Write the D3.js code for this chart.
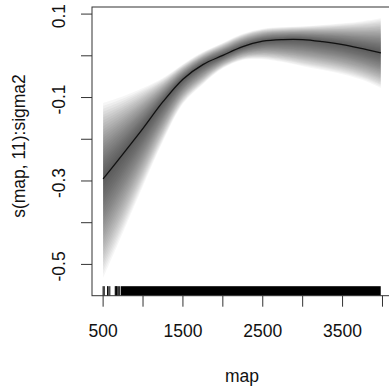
<!DOCTYPE html>
<html>
  <head>
    <meta charset="utf-8">
    <title>s(map, 11):sigma2</title>
    <style>
      body { margin: 0; background: #fff; }
      text {
        font-family: 'Liberation Sans', Arial, sans-serif;
        font-size: 17.5px;
        fill: #111;
      }
    </style>
  </head>
  <body>
    <div id="chart"></div>
    <script src="https://cdn.jsdelivr.net/npm/d3@7"></script>
    <script>
      // smooth estimate and outer edges of the shaded band
      var mapGrid = [500, 750, 1000, 1250, 1500, 1750, 2000, 2250, 2500, 2750, 3000, 3250, 3500, 3750, 3980];
      var fitVals = [-0.295, -0.235, -0.174, -0.110, -0.056, -0.021, 0.001, 0.022, 0.035, 0.039, 0.039, 0.034, 0.027, 0.017, 0.007];
      var upperVals = [-0.113, -0.097, -0.077, -0.053, -0.020, 0.009, 0.031, 0.053, 0.065, 0.069, 0.071, 0.074, 0.078, 0.083, 0.090];
      var lowerVals = [-0.533, -0.423, -0.312, -0.205, -0.115, -0.068, -0.030, -0.010, -0.008, -0.015, -0.025, -0.034, -0.044, -0.058, -0.077];

      // rug: a few isolated values, then a solid run of observations
      var rugSparse = [500, 514, 556, 563, 584, 652, 660, 667, 676, 690, 708];
      var rugDense = [722, 3978];

      var xTicks = [500, 1000, 1500, 2000, 2500, 3000, 3500, 4000];
      var xLabels = [500, 1500, 2500, 3500];
      var yTicks = [-0.5, -0.4, -0.3, -0.2, -0.1, 0, 0.1];
      var yLabels = [-0.5, -0.3, -0.1, 0.1];

      var width = 389, height = 386;
      var box = { left: 92, top: 7, right: 392, bottom: 295.7 };
      var tickLen = 11;
      var layers = 26;

      var svg = d3.select('#chart')
        .append('svg')
        .attr('width', width)
        .attr('height', height);

      var x = d3.scaleLinear().domain([360.8, 4119.2]).range([box.left, box.right]);
      var y = d3.scaleLinear().domain([-0.575, 0.117]).range([box.bottom, box.top]);

      var rows = mapGrid.map(function(m, i) {
        return { map: m, fit: fitVals[i], up: upperVals[i], lo: lowerVals[i] };
      });

      var curve = d3.curveCatmullRom.alpha(0.5);

      // stacked translucent bands, widest first, to fake the fading shade
      var band = svg.append('g');
      for (var k = layers; k >= 1; k--) {
        var f = k / layers;
        var area = d3.area()
          .curve(curve)
          .x(function(d) { return x(d.map); })
          .y0(function(d) { return y(d.fit - (d.fit - d.lo) * f); })
          .y1(function(d) { return y(d.fit + (d.up - d.fit) * f); });
        band.append('path')
          .datum(rows)
          .attr('d', area)
          .attr('fill', '#000')
          .attr('fill-opacity', 0.034);
      }

      var line = d3.line()
        .curve(curve)
        .x(function(d) { return x(d.map); })
        .y(function(d) { return y(d.fit); });

      svg.append('path')
        .datum(rows)
        .attr('d', line)
        .attr('fill', 'none')
        .attr('stroke', '#111')
        .attr('stroke-width', 1.3);

      // rug
      var rugTop = box.bottom - 9.5;
      svg.selectAll('.rug')
        .data(rugSparse)
        .enter()
        .append('line')
        .attr('class', 'rug')
        .attr('x1', function(d) { return x(d); })
        .attr('x2', function(d) { return x(d); })
        .attr('y1', rugTop)
        .attr('y2', box.bottom)
        .attr('stroke', '#000')
        .attr('stroke-width', 1);

      svg.append('rect')
        .attr('x', x(rugDense[0]))
        .attr('y', rugTop)
        .attr('width', x(rugDense[1]) - x(rugDense[0]))
        .attr('height', box.bottom - rugTop)
        .attr('fill', '#000');

      // box
      svg.append('rect')
        .attr('x', box.left)
        .attr('y', box.top)
        .attr('width', box.right - box.left)
        .attr('height', box.bottom - box.top)
        .attr('fill', 'none')
        .attr('stroke', '#333')
        .attr('stroke-width', 1);

      // x axis ticks and labels
      svg.selectAll('.xtick')
        .data(xTicks)
        .enter()
        .append('line')
        .attr('class', 'xtick')
        .attr('x1', function(d) { return x(d); })
        .attr('x2', function(d) { return x(d); })
        .attr('y1', box.bottom)
        .attr('y2', box.bottom + tickLen)
        .attr('stroke', '#333');

      svg.selectAll('.xlab')
        .data(xLabels)
        .enter()
        .append('text')
        .attr('class', 'xlab')
        .attr('x', function(d) { return x(d); })
        .attr('y', 336.5)
        .attr('text-anchor', 'middle')
        .text(function(d) { return d; });

      // y axis ticks and rotated labels
      svg.selectAll('.ytick')
        .data(yTicks)
        .enter()
        .append('line')
        .attr('class', 'ytick')
        .attr('x1', box.left)
        .attr('x2', box.left - tickLen)
        .attr('y1', function(d) { return y(d); })
        .attr('y2', function(d) { return y(d); })
        .attr('stroke', '#333');

      svg.selectAll('.ylab')
        .data(yLabels)
        .enter()
        .append('text')
        .attr('class', 'ylab')
        .attr('text-anchor', 'middle')
        .attr('transform', function(d) {
          return 'translate(65,' + (y(d) + 2) + ') rotate(-90)';
        })
        .text(function(d) { return d; });

      // axis titles
      svg.append('text')
        .attr('x', (box.left + box.right) / 2)
        .attr('y', 381.5)
        .attr('text-anchor', 'middle')
        .text('map');

      svg.append('text')
        .attr('text-anchor', 'middle')
        .attr('transform', 'translate(25,146) rotate(-90)')
        .text('s(map, 11):sigma2');
    </script>
  </body>
</html>
